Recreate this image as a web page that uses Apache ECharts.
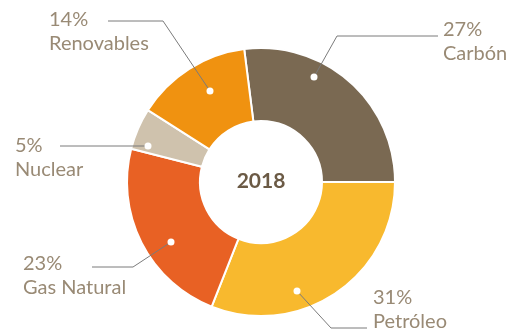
<!DOCTYPE html>
<html>
<head>
<meta charset="utf-8">
<script src="https://cdn.jsdelivr.net/npm/echarts@6/dist/echarts.min.js"></script>
<style>
    html, body { margin: 0; padding: 0; background: #fff; }
    #chart { width: 523px; height: 331px; }
</style>
</head>
<body>
<div id="chart"></div>
<script>
// datos
var categories = ['Carbón', 'Petróleo', 'Gas Natural', 'Nuclear', 'Renovables']
var shares = [27, 31, 23, 5, 14]
var centerLabel = '2018'

var colors = ['#7a6952', '#f8b92e', '#e86124', '#cfc2ad', '#f09210']
var textColor = '#998a75'

// where each label sits and how its leader line runs (anchor dot -> elbow -> end)
var labelPlace = {
    'Carbón': { x: 443, y: 18, line: [[314, 77], [337, 36], [438, 36]] },
    'Petróleo': { x: 373, y: 286, line: [[297, 291], [331, 328], [367, 328]] },
    'Gas Natural': { x: 23, y: 252, line: [[171, 242], [133, 267], [92, 267]] },
    'Nuclear': { x: 15, y: 134, line: [[148, 146], [133, 146], [60, 146]] },
    'Renovables': { x: 49, y: 8, line: [[210, 91], [163, 21], [108, 21]] }
}

var pieData = categories.map(function(name, i) {
    return { name: name, value: shares[i], itemStyle: { color: colors[i] } }
})

// leader lines + white anchor dots
var leaders = []
categories.forEach(function(name) {
    var pts = labelPlace[name].line
    leaders.push({
        type: 'polyline',
        z: 99,
        shape: { points: pts },
        style: { stroke: '#7b7b7b', lineWidth: 1, fill: null }
    })
    leaders.push({
        type: 'circle',
        z: 100,
        shape: { cx: pts[0][0], cy: pts[0][1], r: 3.5 },
        style: { fill: '#fff' }
    })
})

var option = {
    animation: false,
    series: [{
        type: 'pie',
        center: [261, 182],
        radius: [61, 134],
        startAngle: 97.2,
        clockwise: true,
        itemStyle: {
            borderColor: '#fff',
            borderWidth: 2
        },
        label: {
            show: true,
            formatter: '{c}%\n{b}',
            color: textColor,
            fontFamily: 'Lato',
            fontSize: 20,
            lineHeight: 24,
            align: 'left',
            overflow: 'none'
        },
        labelLine: { show: false },
        labelLayout: function(params) {
            var p = labelPlace[categories[params.dataIndex]]
            return {
                x: p.x,
                y: p.y,
                width: 150,
                align: 'left',
                verticalAlign: 'top'
            }
        },
        emphasis: { disabled: true },
        data: pieData
    }],
    graphic: leaders.concat([{
        type: 'text',
        z: 100,
        x: 261,
        y: 181,
        style: {
            text: centerLabel,
            fill: '#6b5a45',
            font: 'bold 21px Lato',
            align: 'center',
            verticalAlign: 'middle'
        }
    }])
}

var myChart = echarts.init(document.getElementById('chart'))
myChart.setOption(option)
window.addEventListener('resize', function() {
    myChart.resize()
})
</script>
</body>
</html>
